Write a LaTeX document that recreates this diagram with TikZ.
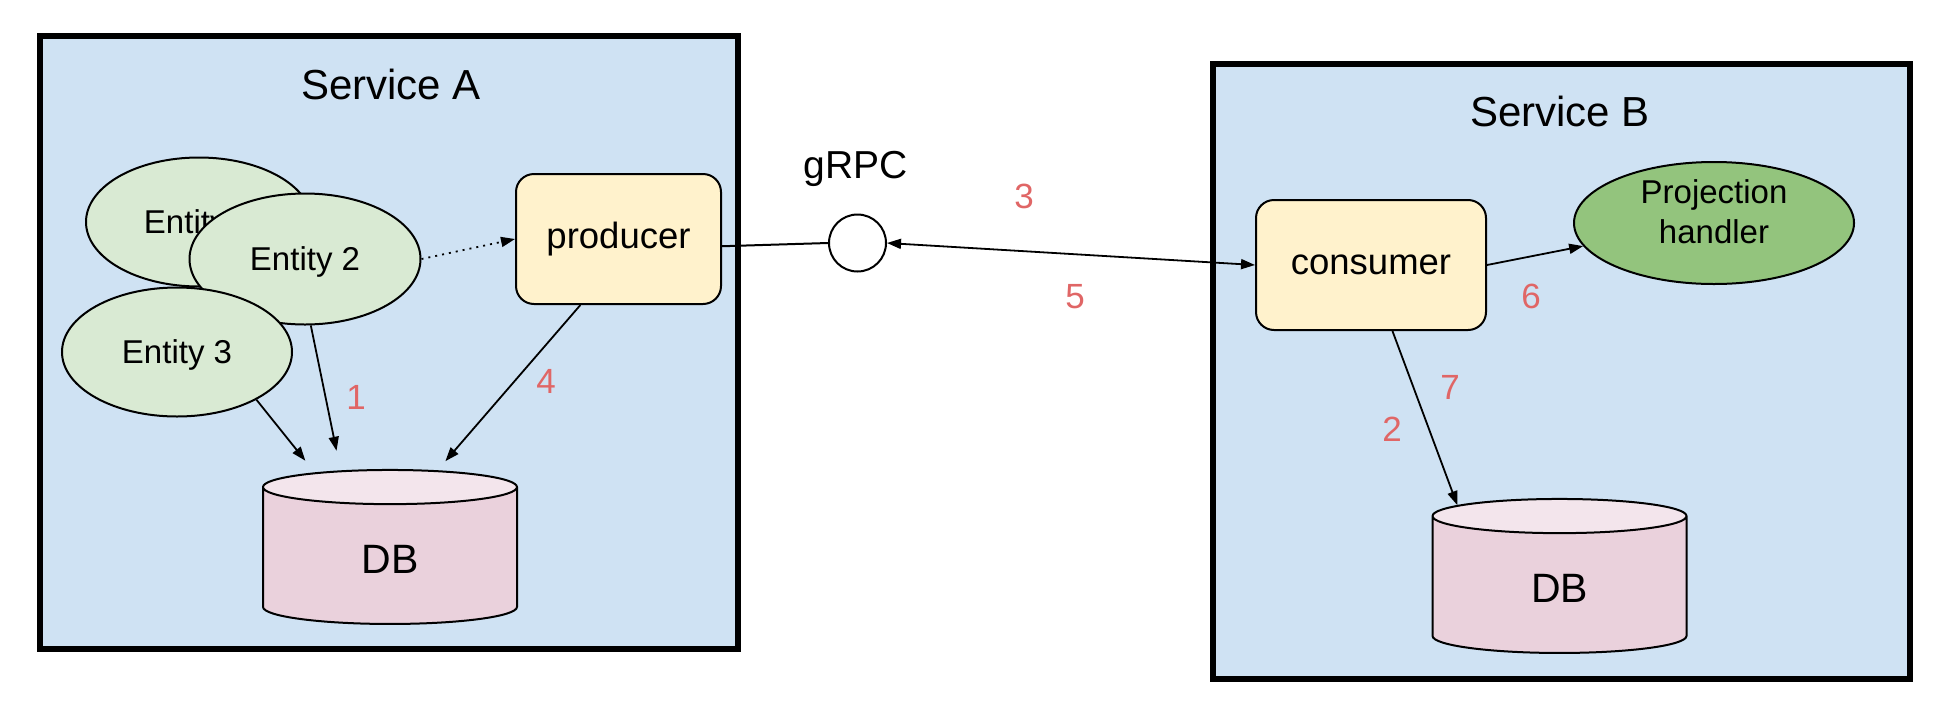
\documentclass[tikz,border=0pt]{standalone}
\usepackage{fontspec}
\setmainfont{Liberation Sans}
\usetikzlibrary{positioning, arrows.meta, shapes.geometric}
\definecolor{serviceblue}{HTML}{CFE2F3}
\definecolor{entitygreen}{HTML}{D9EAD3}
\definecolor{workeryellow}{HTML}{FFF2CC}
\definecolor{handlergreen}{HTML}{93C47D}
\definecolor{dbbody}{HTML}{EAD1DC}
\definecolor{dbtop}{HTML}{F3E5EC}
\definecolor{numred}{HTML}{E06666}
\tikzset{
	line width = 1.8pt,
	>={Triangle[length=14pt, width=10pt]},
	service/.style={
		draw,
		rectangle,
		line width=6pt,
		fill=serviceblue
	},
	title/.style={
		font=\fontsize{42}{50}\selectfont
	},
	entity/.style={
		draw,
		ellipse,
		line width=2pt,
		fill=entitygreen,
		inner sep=0pt,
		text depth=0pt,
		font=\fontsize{33}{40}\selectfont
	},
	worker/.style={
		draw,
		rectangle,
		rounded corners=18pt,
		line width=2pt,
		fill=workeryellow,
		minimum height=130pt,
		font=\fontsize{36.5}{44}\selectfont
	},
	handler/.style={
		draw,
		ellipse,
		line width=2pt,
		fill=handlergreen,
		inner sep=0pt,
		align=center,
		minimum width=280pt,
		minimum height=122pt,
		text height=47pt,
		text depth=7pt,
		font=\fontsize{33}{40}\selectfont
	},
	rpc/.style={
		draw,
		circle,
		line width=2pt,
		fill=white,
		minimum size=57pt,
		inner sep=0pt
	},
	store/.style={
		draw,
		cylinder,
		shape border rotate=90,
		aspect=0.6,
		line width=2pt,
		cylinder uses custom fill,
		cylinder body fill=dbbody,
		cylinder end fill=dbtop,
		minimum width=254pt,
		minimum height=154pt,
		inner sep=0pt,
		text height=34pt,
		text depth=0pt,
		font=\fontsize{41}{48}\selectfont
	},
	num/.style={
		text=numred,
		font=\fontsize{35}{42}\selectfont
	},
	edge/.style={
		->,
		line width=1.8pt
	}
}

\begin{document}
\begin{tikzpicture}[x=1pt, y=-1pt]
\useasboundingbox (0,0) rectangle (1958,718);

% ---
% Services
% ---
\node[service, minimum width=698pt, minimum height=613pt] (svcA) at (389,342.5) {};
\node[service, minimum width=697pt, minimum height=615pt] (svcB) at (1561.5,371.5) {};
\node[title] (svcA-label) at (391,84) {Service A};
\node[title] (svcB-label) at (1560,111) {Service B};

% ---
% Service A
% ---
\node[entity, minimum width=226pt, minimum height=129pt] (ent1) at (199,222) {Entity 1};
\node[entity, minimum width=231pt, minimum height=131pt] (ent2) at (305,259) {Entity 2};
\node[entity, minimum width=230pt, minimum height=129pt] (ent3) at (177,352) {Entity 3};
\node[worker, minimum width=205pt] (prod) at (618.5,239) {producer};
\node[store] (dbA) at (390,556) {DB};

% ---
% gRPC
% ---
\node[rpc] (grpc) at (857.5,243) {};
\node[title, font=\fontsize{39}{46}\selectfont] (grpc-label) at (856,169) {gRPC};

% ---
% Service B
% ---
\node[worker, minimum width=230pt] (cons) at (1371,265) {consumer};
\node[handler] (proj) at (1714,223) {Projection\\handler};
\node[store] (dbB) at (1559.5,585) {DB};

% ---
% Connections
% ---
\draw[edge, dash pattern=on 2pt off 5pt] (ent2.east) to (prod.west);
\draw[line width=2pt] (prod.-4) to (grpc.west);
\draw[edge, <->] (grpc.east) to (cons.west);
\draw[edge] (cons.east) to (proj.190);
\draw[edge] (cons.-72) to (dbB.142);
\foreach \src/\dst/\gap in {ent3.-31/dbA.132/15pt, ent2.-85/dbA.120/20pt, prod.-120/dbA.61/12pt} {
	\draw[edge, shorten >=\gap] (\src) to (\dst);
}

% ---
% Steps
% ---
\foreach \n/\x/\y in {1/356/397, 2/1392/429, 3/1024/196, 4/546/381, 5/1075/297, 6/1531/296, 7/1450/387} {
	\node[num] (step-\n) at (\x,\y) {\n};
}
\end{tikzpicture}
\end{document}
